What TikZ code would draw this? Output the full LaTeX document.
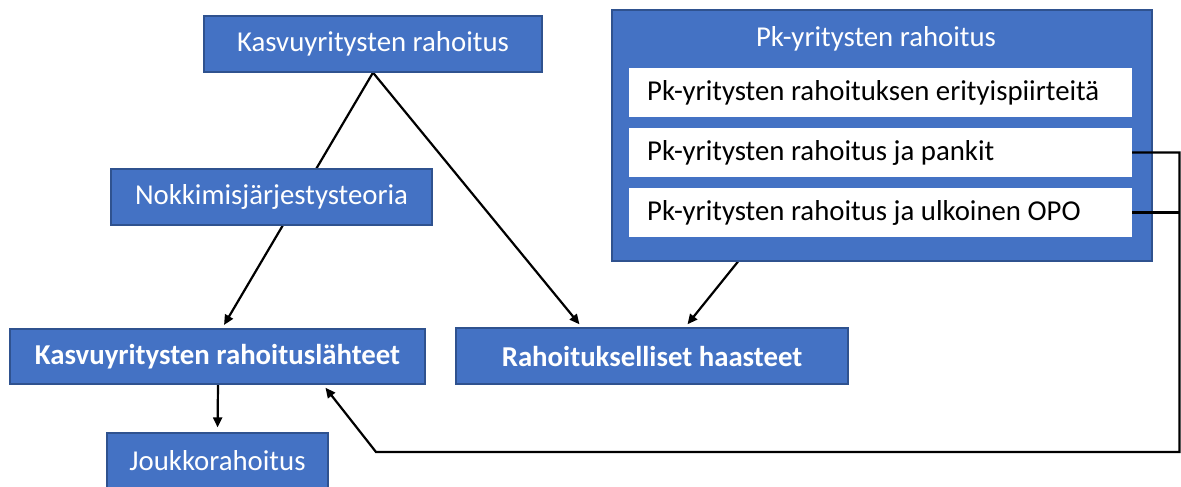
\documentclass[tikz,border=0pt]{standalone}
\usepackage{fontspec}
\setmainfont{Carlito}
\usetikzlibrary{arrows.meta,backgrounds,calc}
\definecolor{boxblue}{HTML}{4472C4}
\definecolor{boxedge}{HTML}{2F528F}
\tikzset{
  bluebox/.style={draw=boxedge, line width=1.2pt, fill=boxblue, text=white, inner sep=0pt,
    font=\fontsize{28.8}{34}\selectfont},
  whitebox/.style={fill=white, draw=none, inner sep=0pt, minimum width=503pt, minimum height=49pt},
  innertext/.style={text=black, inner sep=0pt, anchor=west, font=\fontsize{28.8}{34}\selectfont},
  conn/.style={draw=black, line width=2.2pt},
  arr/.style={conn, -{Triangle[length=10pt,width=9pt]}}
}
\begin{document}
\begin{tikzpicture}[x=1pt,y=-1pt]
\useasboundingbox (0,0) rectangle (1181,487);
% boxes
\node[bluebox, minimum width=338pt, minimum height=56pt] (kr) at (373,44) {Kasvuyritysten rahoitus};
\node[bluebox, minimum width=321pt, minimum height=56pt] (nk) at (271.5,197) {Nokkimisjärjestysteoria};
\node[bluebox, minimum width=415pt, minimum height=55pt, font=\fontsize{28.8}{34}\selectfont\bfseries] (kl) at (217.5,356.5) {Kasvuyritysten rahoituslähteet};
\node[bluebox, minimum width=392pt, minimum height=56pt, font=\fontsize{28.8}{34}\selectfont\bfseries] (rh) at (652,356) {Rahoitukselliset haasteet};
\node[bluebox, minimum width=221pt, minimum height=58pt] (jr) at (217.5,462) {};
\node[text=white, inner sep=0pt, font=\fontsize{28.8}{34}\selectfont] (jrt) at (217.5,461) {Joukkorahoitus};
\node[bluebox, minimum width=540pt, minimum height=251pt] (pk) at (882,135.5) {};
\node[text=white, inner sep=0pt, font=\fontsize{28.8}{34}\selectfont] (pkt) at (876,39) {Pk-yritysten rahoitus};
\node[whitebox] (pe) at (880.5,92.5) {};
\node[whitebox] (pb) at (880.5,152.5) {};
\node[whitebox] (po) at (880.5,212.5) {};
\node[innertext] (pet) at (647,92.5) {Pk-yritysten rahoituksen erityispiirteitä};
\node[innertext] (pbt) at (647,152.5) {Pk-yritysten rahoitus ja pankit};
\node[innertext] (pot) at (647,212.5) {Pk-yritysten rahoitus ja ulkoinen OPO};
\coordinate (c1) at (1179.5,452);
\coordinate (c2) at (376,452);
% connectors behind boxes
\begin{scope}[on background layer]
\draw[arr, shorten >=4pt] (kr.south) -- ([xshift=4.5pt]kl.north);
\draw[arr, shorten >=4pt] (kr.south) -- ([xshift=-70pt]rh.north);
\draw[arr, shorten >=4pt] ([xshift=-144pt]pk.south) -- ([xshift=33pt]rh.north);
\draw[arr, shorten >=5pt] ([xshift=0.5pt]kl.south) -- (jr.north);
\end{scope}
% elbow connectors on top
\draw[arr, line join=miter, shorten >=4pt] (pb.east) -| (c1) -- (c2) -- ([xshift=105.5pt]kl.south);
\draw[conn] (po.east) -- (po.east -| c1);
\end{tikzpicture}
\end{document}
